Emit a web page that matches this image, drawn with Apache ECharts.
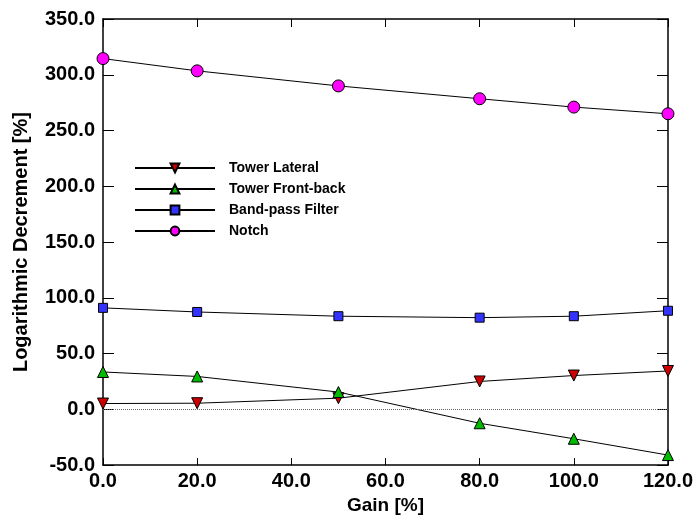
<!DOCTYPE html>
<html>
<head>
<meta charset="utf-8">
<script src="https://cdn.jsdelivr.net/npm/echarts@6/dist/echarts.min.js"></script>
<style>
  html, body { margin: 0; padding: 0; background: #fff; }
  #main { width: 696px; height: 520px; }
</style>
</head>
<body>
<div id="main"></div>
<script>
var chart = echarts.init(document.getElementById('main'));

// gain [%]
var gain = [0, 20, 50, 80, 100, 120];
// logarithmic decrement [%]
var towerLateral = [5.2, 5.5, 10, 25, 30.3, 34.4];
var towerFrontBack = [33.5, 29.5, 15.5, -12.5, -26.4, -41];
var bandPass = [91, 87.3, 83.5, 82.2, 83.5, 88.4];
var notch = [314.5, 303.5, 290, 278.5, 271, 265];

function pairs(ys) {
  return gain.map(function (g, i) { return [g, ys[i]]; });
}

var fmt = function (v) { return v.toFixed(1); };
var font = 'Liberation Sans, Arial, sans-serif';

function mk(name, data, symbol, size, color, rotate) {
  return {
    name: name,
    type: 'line',
    data: pairs(data),
    symbol: symbol,
    symbolSize: size,
    symbolRotate: rotate || 0,
    showAllSymbol: true,
    lineStyle: { color: '#000', width: 1 },
    itemStyle: { color: color, borderColor: '#000', borderWidth: 1 },
    emphasis: { disabled: true },
    animation: false
  };
}

var s1 = mk('Tower Lateral', towerLateral, 'triangle', 11, '#cc0000', 180);
s1.markLine = {
  silent: true,
  symbol: 'none',
  label: { show: false },
  lineStyle: { color: '#666', type: 'dotted', width: 1 },
  data: [{ yAxis: 0 }]
};

var axLine = { show: true, onZero: false, lineStyle: { color: '#000', width: 1.5 } };

option = {
  animation: false,
  grid: { left: 103, right: 28, top: 19, bottom: 50 },
  legend: {
    left: 134,
    top: 161,
    padding: 0,
    orient: 'vertical',
    itemWidth: 80,
    itemHeight: 11,
    itemGap: 7,
    textStyle: { fontFamily: font, fontWeight: 'bold', fontSize: 14, color: '#000', padding: [0, 0, 0, 9] },
    data: ['Tower Lateral', 'Tower Front-back', 'Band-pass Filter', 'Notch']
  },
  xAxis: [
    {
      type: 'value', min: 0, max: 120, interval: 20,
      name: 'Gain [%]', nameLocation: 'middle', nameGap: 30,
      nameTextStyle: { fontFamily: font, fontWeight: 'bold', fontSize: 19, color: '#000' },
      axisLine: axLine,
      axisTick: { inside: true, length: 7, lineStyle: { color: '#000' } },
      axisLabel: { formatter: fmt, fontFamily: font, fontWeight: 'bold', fontSize: 20, color: '#000', margin: 6 },
      splitLine: { show: false }
    },
    {
      type: 'value', min: 0, max: 120, interval: 20, position: 'top',
      axisLine: axLine,
      axisTick: { inside: true, length: 8, lineStyle: { color: '#000' } },
      axisLabel: { show: false },
      splitLine: { show: false }
    }
  ],
  yAxis: [
    {
      type: 'value', min: -50, max: 350, interval: 50,
      name: 'Logarithmic Decrement [%]', nameLocation: 'middle', nameGap: 72,
      nameTextStyle: { fontFamily: font, fontWeight: 'bold', fontSize: 20, color: '#000' },
      axisLine: axLine,
      axisTick: { show: true, inside: true, length: 11, lineStyle: { color: '#000' } },
      axisLabel: { formatter: fmt, fontFamily: font, fontWeight: 'bold', fontSize: 20, color: '#000', margin: 8 },
      splitLine: { show: false }
    },
    {
      type: 'value', min: -50, max: 350, interval: 50, position: 'right',
      axisLine: axLine,
      axisTick: { show: true, inside: true, length: 11, lineStyle: { color: '#000' } },
      axisLabel: { show: false },
      splitLine: { show: false }
    }
  ],
  series: [
    s1,
    mk('Tower Front-back', towerFrontBack, 'triangle', 11, '#00bb00'),
    mk('Band-pass Filter', bandPass, 'rect', 9, '#3333ff'),
    mk('Notch', notch, 'circle', 12, '#ff00ff')
  ]
};

chart.setOption(option);
</script>
</body>
</html>
